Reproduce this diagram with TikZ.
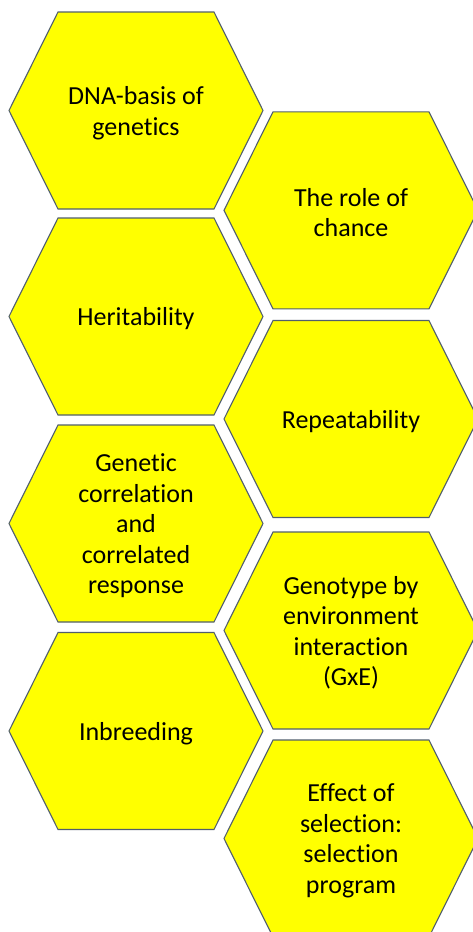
\documentclass[tikz,border=0pt]{standalone}
\usepackage{fontspec}
\setmainfont[Ligatures={NoCommon}]{Carlito}
\definecolor{hexfill}{RGB}{255,255,0}
\definecolor{hexline}{RGB}{80,94,110}
\tikzset{
  hexshape/.style={fill=hexfill, draw=hexline, line width=1.1pt, line join=miter},
  hextext/.style={align=center, text=black, font=\fontsize{26}{30.5}\selectfont, inner sep=0pt}
}
\newcommand\hexcell[4]{%
  \begin{scope}[shift={(#1,#2)}]
    \draw[hexshape] (-127,0) -- (-78,-98.5) -- (78,-98.5) -- (127,0) -- (78,98.5) -- (-78,98.5) -- cycle;
    \node[hextext] (#3) at (0,2.5) {#4};
  \end{scope}}
\begin{document}
\begin{tikzpicture}[x=1pt,y=-1pt]
\useasboundingbox (0,0) rectangle (473,932);
\fill[white] (0,0) rectangle (473,932);
\hexcell{136}{110.5}{dna}{DNA-basis of\\genetics}
\hexcell{136}{316.5}{her}{Heritability}
\hexcell{136}{523.5}{gen}{Genetic\\correlation\\and\\correlated\\response}
\hexcell{136}{731}{inb}{Inbreeding}
\hexcell{351}{210.3}{cha}{The role of\\chance}
\hexcell{351}{419}{rep}{Repeatability}
\hexcell{351}{630.5}{gxe}{Genotype by\\environment\\interaction\\(GxE)}
\hexcell{351}{838.5}{sel}{Effect of\\selection:\\selection\\program}
\end{tikzpicture}
\end{document}
